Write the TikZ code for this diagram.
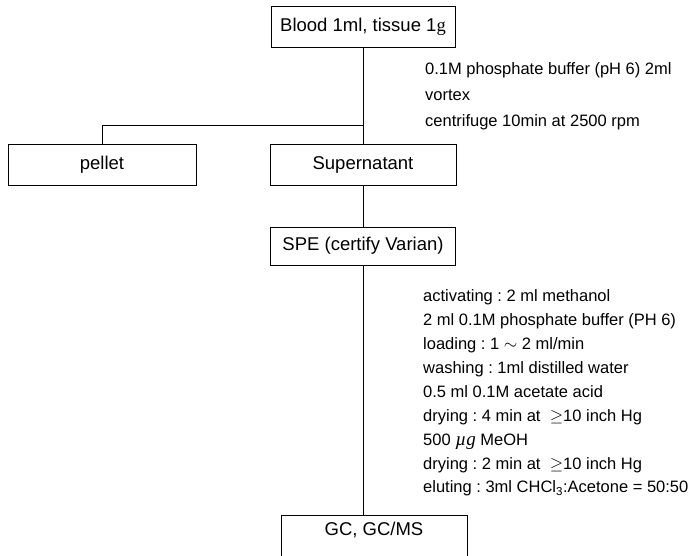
\documentclass[tikz,border=0pt]{standalone}
\usepackage{fontspec}
\setmainfont{Liberation Sans}
\newfontfamily\serifg{Liberation Serif}
\frenchspacing
\begin{document}
\begin{tikzpicture}[x=1pt,y=-1pt]
	\tikzstyle{box}=[draw=black, line width=0.9pt, minimum height=41pt, inner sep=0pt, font=\fontsize{18.5}{22}\selectfont]
	\tikzstyle{note}=[anchor=base west, align=left, inner sep=0pt]
	\tikzstyle{edge}=[draw=black, line width=0.9pt]

	\useasboundingbox (0,0) rectangle (689,556);

	 \node [box, minimum width=184pt] (blood) at (363,26.5) {Blood 1ml, tissue 1{\serifg g}};
	 \node [box, minimum width=188pt] (pellet) at (102,164.5) {pellet};
	 \node [box, minimum width=186pt] (super) at (363,164.5) {Supernatant};
	 \node [box, minimum width=185pt, minimum height=38pt] (spe) at (363,246) {SPE (certify Varian)};
	 \node [box, minimum width=186pt, minimum height=48pt] (gc) at (374,539) {\raisebox{9pt}[\height][\depth]{GC, GC/MS}};

	 % base anchor sits on the last line
	 \node [note, font=\fontsize{16.5}{26}\selectfont] (extract) at (425,127)
	   {0.1M phosphate buffer (pH 6) 2ml\\ vortex\\ centrifuge 10min at 2500 rpm};
	 \node [note, font=\fontsize{16.5}{23.9}\selectfont] (steps) at (423,493)
	   {activating : 2 ml methanol\\
	    2 ml 0.1M phosphate buffer (PH 6)\\
	    loading : 1 $\sim$ 2 ml/min\\
	    washing : 1ml distilled water\\
	    0.5 ml 0.1M acetate acid\\
	    drying : 4 min at \ $\geq$10 inch Hg\\
	    500 {\serifg\itshape\fontsize{19}{23.9}\selectfont µg} MeOH\\
	    drying : 2 min at \ $\geq$10 inch Hg\\
	    eluting : 3ml CHCl\textsubscript{3}:Acetone = 50:50};

	 \coordinate (split) at (363,125);

	 \path[edge] (blood.south) -- (super.north);
	 \path[edge] (split) -| (pellet.north);
	 \path[edge] (super.south) -- (spe.north);
	 \path[edge] (spe.south) -- (spe.south |- gc.north);

\end{tikzpicture}
\end{document}
